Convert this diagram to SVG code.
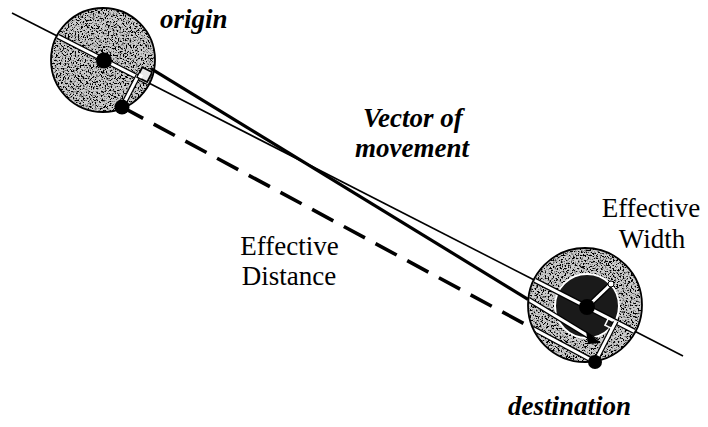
<svg xmlns="http://www.w3.org/2000/svg" width="708" height="427" viewBox="0 0 708 427">
<style>
.ln{fill:none;stroke:#000;stroke-linecap:butt}
.ax{stroke-width:1.6}
.thick{stroke-width:3.2}
.dash{stroke-width:3.6;stroke-dasharray:24 12}
.bo{fill:none;stroke:#000;stroke-width:5.5}
.bi{fill:none;stroke:#fff;stroke-width:3}
.rim{fill:none;stroke:#000;stroke-width:1.8}
.dot{fill:#000}
.lab{font-family:"Liberation Serif","Times New Roman",serif;font-size:27px;fill:#000}
.bi-t{font-weight:bold;font-style:italic}
</style>
<defs>
<filter id="spk" x="-5%" y="-5%" width="110%" height="110%">
<feTurbulence type="fractalNoise" baseFrequency="0.6" numOctaves="4" seed="7" result="n"/>
<feColorMatrix in="n" type="matrix" values="0 0 0 0 0 0 0 0 0 0 0 0 0 0 0 6.5 0 0 0 -3.1" result="d"/>
<feComposite in="d" in2="SourceAlpha" operator="in" result="dc"/>
<feMerge><feMergeNode in="SourceGraphic"/><feMergeNode in="dc"/></feMerge>
</filter>
<clipPath id="cO"><circle cx="103" cy="60" r="51"/></clipPath>
<clipPath id="cD"><circle cx="585" cy="305" r="56"/></clipPath>
</defs>
<rect width="708" height="427" fill="#fff"/>

<g id="origin">
<circle cx="103" cy="60" r="52" fill="#cccccc" filter="url(#spk)"/>
<g clip-path="url(#cO)">
<line class="bo" x1="40" y1="27.3" x2="160" y2="88.6"/>
<line class="bi" x1="40" y1="27.3" x2="160" y2="88.6"/>
<line class="bo" x1="122" y1="107" x2="138" y2="76"/>
<line class="bi" x1="122" y1="107" x2="138" y2="76"/>
<polygon points="137.3,77.1 147.1,82.1 152.1,72.3 142.3,67.3" fill="#e8e8e8" stroke="#000" stroke-width="1.8"/>
<rect x="138.5" y="74" width="4" height="4" fill="#fff" transform="rotate(27 140.5 76)"/>
</g>
<circle class="rim" cx="103" cy="60" r="52"/>
<circle class="dot" cx="104" cy="60.5" r="8"/>
<circle class="dot" cx="122" cy="107" r="7.5"/>
</g>

<g id="destination">
<circle cx="585" cy="305" r="57" fill="#cccccc" filter="url(#spk)"/>
<g clip-path="url(#cD)">
<circle cx="587" cy="306" r="32" fill="#1a1a1a" stroke="#fff" stroke-width="2"/>
<line class="bo" x1="520" y1="272.8" x2="650" y2="339.3"/>
<line class="bi" x1="520" y1="272.8" x2="650" y2="339.3"/>
<line class="bo" x1="520" y1="294.2" x2="597" y2="341.3"/>
<line class="bi" x1="520" y1="294.2" x2="597" y2="341.3"/>
<line class="bo" x1="520" y1="321.6" x2="595" y2="362"/>
<line class="bi" x1="520" y1="321.6" x2="595" y2="362"/>
<line class="bo" x1="595" y1="362" x2="616" y2="321"/>
<line class="bi" x1="595" y1="362" x2="616" y2="321"/>
<line class="bo" x1="587" y1="307" x2="611" y2="284"/>
<line class="bi" x1="587" y1="307" x2="611" y2="284"/>
<polygon points="615.7,321.6 608.6,318 605,325.1 612.1,328.7" fill="none" stroke="#fff" stroke-width="1.6"/>
<polygon points="586,331 601,343 588,344" fill="#000"/>
</g>
<circle class="rim" cx="585" cy="305" r="57"/>
<circle class="dot" cx="587" cy="307" r="8"/>
<circle cx="611" cy="284" r="3" fill="#fff" stroke="#000" stroke-width="1"/>
<circle class="dot" cx="595" cy="362" r="7"/>
</g>

<g id="connectors">
<line class="ln ax" x1="12" y1="13" x2="56.7" y2="35.8"/>
<line class="ln ax" x1="149.3" y1="83.2" x2="534.2" y2="280"/>
<line class="ln ax" x1="635.8" y1="331.8" x2="683" y2="356"/>
<line class="ln thick" x1="151" y1="68.6" x2="528" y2="299.3"/>
<line class="ln dash" x1="122" y1="107" x2="529" y2="326.3"/>
</g>

<g id="labels">
<text class="lab bi-t" x="160" y="28">origin</text>
<text class="lab bi-t" x="363" y="127">Vector of</text>
<text class="lab bi-t" x="355" y="157">movement</text>
<text class="lab" x="289.5" y="255" text-anchor="middle">Effective</text>
<text class="lab" x="289" y="285" text-anchor="middle">Distance</text>
<text class="lab" x="651" y="217" text-anchor="middle">Effective</text>
<text class="lab" x="652" y="248" text-anchor="middle">Width</text>
<text class="lab bi-t" x="508" y="415">destination</text>
</g>
</svg>
